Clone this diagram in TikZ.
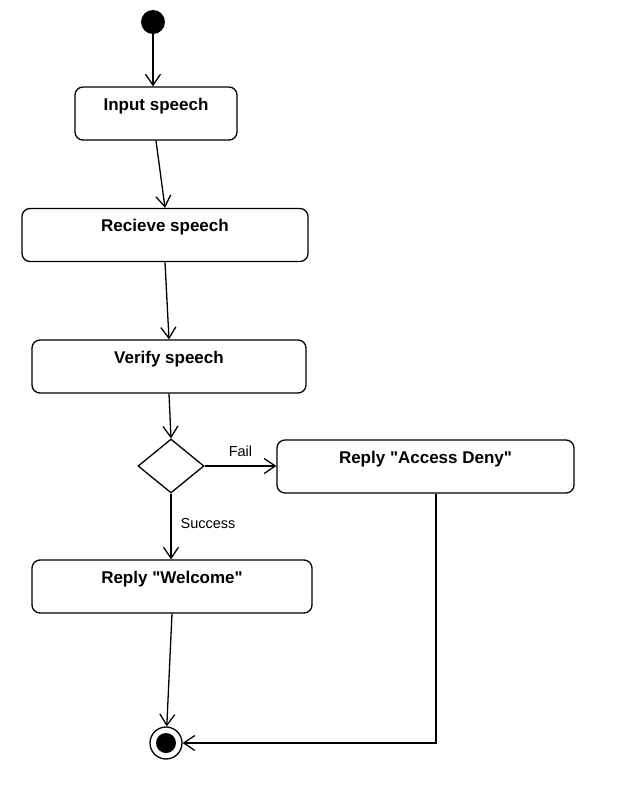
\documentclass[tikz,border=0pt]{standalone}
\usepackage{fontspec}
\setmainfont{Liberation Sans}
\usepackage{tikz}
\usetikzlibrary{arrows.meta,calc,positioning,shapes.geometric}
\tikzset{
  actNode/.style={draw, line width=1.3pt, rounded corners=8pt, fill=white, align=center, font=\bfseries\fontsize{17}{19}\selectfont, inner xsep=4pt, inner ysep=5pt, text height=18pt, text depth=25pt},
  actDecision/.style={draw, diamond, line width=1.3pt, fill=white, minimum width=66pt, minimum height=54pt, inner sep=0pt},
  actStart/.style={circle, fill=black, minimum size=24pt, inner sep=0pt},
  actEnd/.style={circle, draw, line width=1.3pt, fill=white, minimum size=32pt, inner sep=0pt, path picture={\fill[black] (path picture bounding box.center) circle (10pt);}},
  actArrow/.style={->, line width=1.3pt},
  actEdgeLabel/.style={font=\fontsize{14.5}{16}\selectfont, inner sep=1pt}
}

\begin{document}
\begin{tikzpicture}[x=1pt, y=-1pt, >={Straight Barb[length=11pt, width=15pt, line width=1.3pt]}]
      \useasboundingbox[fill=white] (0,0) rectangle (639,792);
      \node[actStart] (start) at (153,22) {};
      \node[actNode, minimum width=162pt] (input) at (156,113.5) {Input speech};
      \node[actNode, minimum width=286pt] (receive) at (165,235) {Recieve speech};
      \node[actNode, minimum width=274pt] (verify) at (169,366.5) {Verify speech};
      \node[actDecision] (check) at (171,466) {};
      \node[actNode, minimum width=297pt] (deny) at (425.5,466.5) {Reply \textquotedbl Access Deny\textquotedbl};
      \node[actNode, minimum width=280pt] (welcome) at (172,586.5) {Reply \textquotedbl Welcome\textquotedbl};
      \node[actEnd] (final) at (166,743) {};
      \coordinate (corner) at (436,743);
      \draw[actArrow] (start) -- (input.north -| start);
      \draw[actArrow] (input.south) -- (receive.north);
      \draw[actArrow] (receive.south) -- (verify.north);
      \draw[actArrow] (verify.south) -- (check.north);
      \draw[actArrow] (check.east) -- (deny.west |- check.east) node[actEdgeLabel, midway, above=8pt] {Fail};
      \draw[actArrow] (check.south) -- (welcome.north -| check.south) node[actEdgeLabel, pos=0.45, right=8pt] {Success};
      \draw[actArrow] (welcome.south) -- (final);
      \draw[actArrow] (deny.south -| corner) -- (corner) -- (final);
    \end{tikzpicture}
\end{document}
